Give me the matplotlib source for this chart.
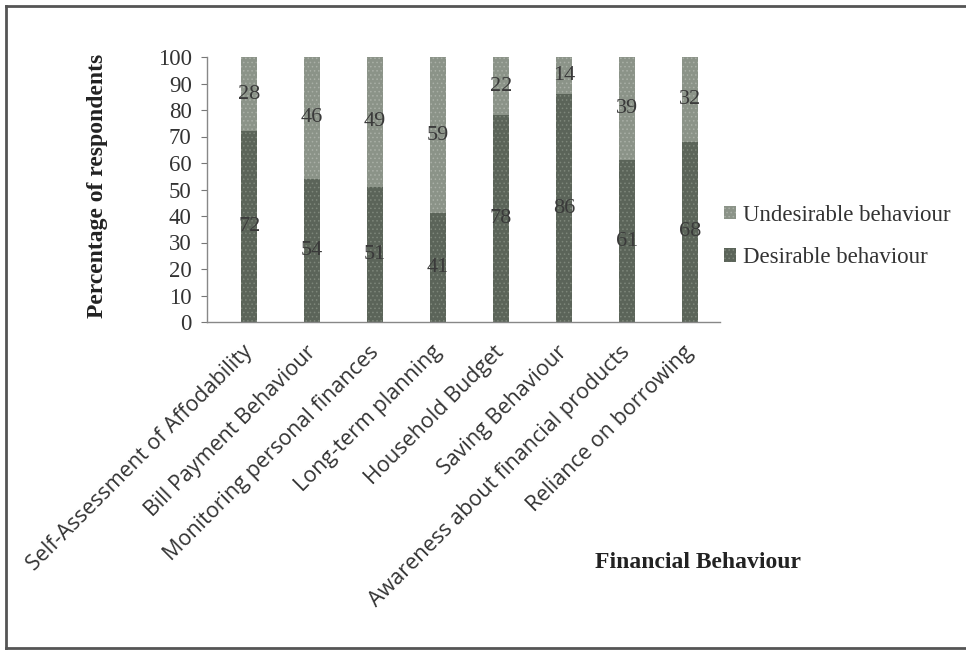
import matplotlib
matplotlib.use("Agg")
import matplotlib.pyplot as plt
import matplotlib.transforms as mtransforms
from matplotlib.patches import Patch
from matplotlib.lines import Line2D

categories = [
    "Self-Assessment of Affodability",
    "Bill Payment Behaviour",
    "Monitoring personal finances",
    "Long-term planning",
    "Household Budget",
    "Saving Behaviour",
    "Awareness about financial products",
    "Reliance on borrowing",
]
desirable = [72, 54, 51, 41, 78, 86, 61, 68]
undesirable = [28, 46, 49, 59, 22, 14, 39, 32]
y_ticks = [0, 10, 20, 30, 40, 50, 60, 70, 80, 90, 100]

serif = ["Liberation Serif", "DejaVu Serif"]
sans = ["Open Sans", "DejaVu Sans"]

plt.rcParams["hatch.linewidth"] = 0.6

fig = plt.figure(figsize=(9.66, 6.52), dpi=100)
ax = fig.add_axes([207 / 966, 1 - 322 / 652, 513 / 966, 265 / 652])

x = list(range(len(categories)))
width = 0.25
dark = "#5b6459"
light = "#8b9388"

ax.bar(x, desirable, width, color=dark, edgecolor="#7d867a",
       hatch="....", linewidth=0)
ax.bar(x, undesirable, width, bottom=desirable, color=light,
       edgecolor="#a9afa6", hatch="....", linewidth=0)

for xi, d, u in zip(x, desirable, undesirable):
    ax.text(xi, d / 2, str(d), ha="center", va="center", fontsize=16,
            family=serif, color="#3a3a3a")
    ax.text(xi, d + u / 2, str(u), ha="center", va="center", fontsize=16,
            family=serif, color="#3a3a3a")

ax.set_xlim(-0.67, 7.48)
ax.set_ylim(0, 100)
ax.set_yticks(y_ticks)
ax.set_yticklabels([str(v) for v in y_ticks], family=serif, fontsize=16.5,
                   color="#333333")
ax.tick_params(axis="y", length=4, width=0.8, color="#777777", pad=7)
ax.set_xticks(x)
ax.set_xticklabels(categories, rotation=45, ha="right", va="top",
                   rotation_mode="anchor", family=sans, fontsize=15.5,
                   color="#333333")
ax.tick_params(axis="x", length=0, pad=14)
shift = mtransforms.ScaledTranslation(-7 / 100, 0, fig.dpi_scale_trans)
for lbl in ax.get_xticklabels():
    lbl.set_transform(lbl.get_transform() + shift)

for s in ("top", "right"):
    ax.spines[s].set_visible(False)
for s in ("left", "bottom"):
    ax.spines[s].set_color("#888888")
    ax.spines[s].set_linewidth(1.0)

fig.text(98 / 966, 1 - 186 / 652, "Percentage of respondents", rotation=90,
         ha="center", va="center", fontsize=17, fontweight="bold",
         family=serif, color="#222222")
fig.text(698 / 966, 1 - 562 / 652, "Financial Behaviour", ha="center",
         va="center", fontsize=17, fontweight="bold", family=serif,
         color="#222222")

handles = [
    Patch(facecolor=light, edgecolor="#a9afa6", hatch="....", linewidth=0),
    Patch(facecolor=dark, edgecolor="#7d867a", hatch="....", linewidth=0),
]
fig.legend(handles, ["Undesirable behaviour", "Desirable behaviour"],
           loc="upper left", bbox_to_anchor=(703 / 966, 1 - 184 / 652),
           frameon=False, prop={"family": serif, "size": 16.5},
           handlelength=0.55, handleheight=0.55, handletextpad=0.3,
           labelspacing=0.95, labelcolor="#333333")

# page frame around the figure
frame_kw = dict(color="#555555", linewidth=2.0, transform=fig.transFigure)
fig.add_artist(Line2D([6 / 966, 6 / 966], [1 - 6 / 652, 1 - 648 / 652], **frame_kw))
fig.add_artist(Line2D([6 / 966, 1.0], [1 - 6 / 652, 1 - 6 / 652], **frame_kw))
fig.add_artist(Line2D([6 / 966, 1.0], [1 - 648 / 652, 1 - 648 / 652], **frame_kw))

fig.savefig("out.png", dpi=100)
